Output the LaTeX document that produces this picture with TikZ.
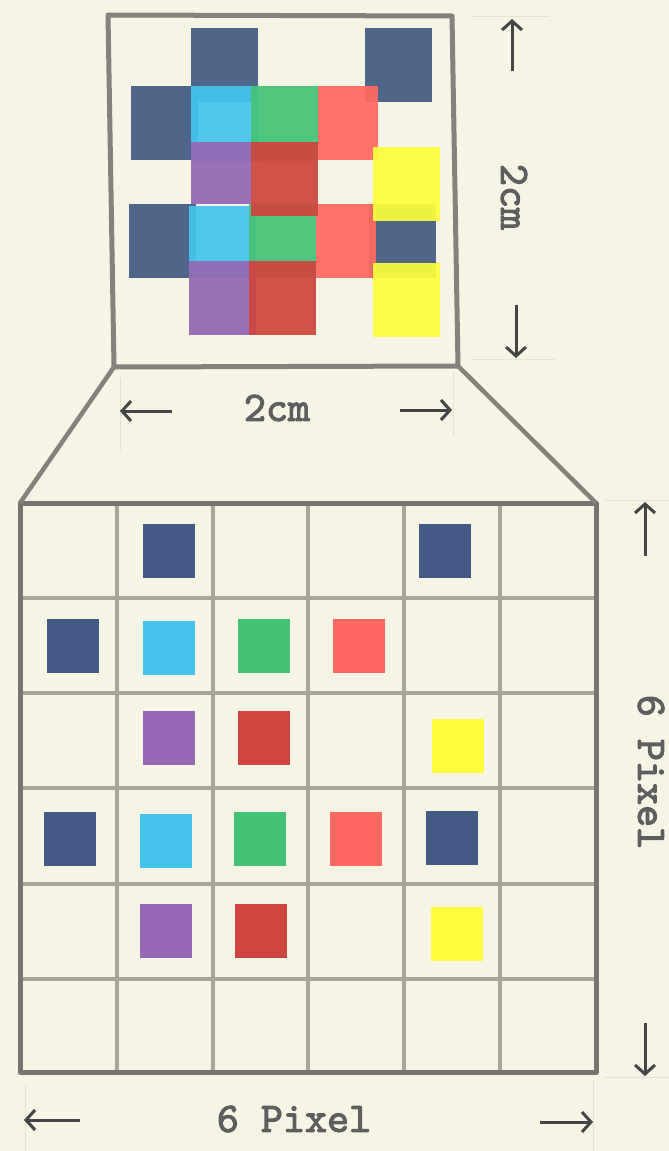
\documentclass[tikz,border=0pt]{standalone}
\usepackage{fontspec}
\newfontfamily\dimfont{lmmono10-regular.otf}[FakeBold=2.5]
\usetikzlibrary{arrows.meta}
\definecolor{bg}{HTML}{F6F4E5}
\definecolor{frame}{HTML}{85827C}
\definecolor{gridc}{HTML}{A9A79B}
\definecolor{outer}{HTML}{76746E}
\definecolor{dimc}{HTML}{454545}
\definecolor{txt}{HTML}{5E5E5E}
\definecolor{ext}{HTML}{E4E2D3}
\definecolor{cDB}{HTML}{435B84}
\definecolor{cCY}{HTML}{44C4EC}
\definecolor{cGR}{HTML}{44C276}
\definecolor{cSA}{HTML}{FF6961}
\definecolor{cPU}{HTML}{9568B3}
\definecolor{cRE}{HTML}{CE443F}
\definecolor{cYE}{HTML}{FDFD3D}
\tikzset{
  framebox/.style={draw=frame, line width=5pt, line join=round},
  zoomline/.style={draw=frame, line width=4.5pt},
  dimarrow/.style={draw=dimc, line width=3pt, -{Straight Barb[length=9pt,width=20pt,line width=3pt]}},
  dimtext/.style={text=txt, font=\dimfont\fontsize{42}{42}\selectfont, inner sep=0pt},
  extline/.style={draw=ext, line width=1pt},
  pix/.style={fill opacity=0.93},
  gridline/.style={gridc, line width=3.2pt},
}
\begin{document}
\begin{tikzpicture}[x=1pt,y=-1pt]
\fill[bg] (0,0) rectangle (669,1151);
\useasboundingbox (0,0) rectangle (669,1151);

% ---------- top (2cm) square: overlapping pixels ----------
\fill[cDB,pix] (191,28) rectangle (258,102);
\fill[cDB,pix] (365,28) rectangle (432,102);
\fill[cDB,pix] (131,86) rectangle (198,160);
\fill[cDB,pix] (129,204) rectangle (196,278);
\fill[cDB,pix] (369,204) rectangle (436,278);
\fill[cCY,pix] (191,86) rectangle (258,161);
\fill[cCY,pix] (189,206) rectangle (256,278);
\fill[cGR,pix] (251,86) rectangle (318,161);
\fill[cGR,pix] (249,204) rectangle (316,278);
\fill[cSA,pix] (318,86) rectangle (378,160);
\fill[cSA,pix] (316,204) rectangle (376,278);
\fill[cPU,pix] (191,142) rectangle (251,204);
\fill[cPU,pix] (189,261) rectangle (256,335);
\fill[cRE,pix] (251,142) rectangle (318,216);
\fill[cRE,pix] (249,261) rectangle (316,335);
\fill[cYE,pix] (373,147) rectangle (440,221);
\fill[cYE,pix] (373,263) rectangle (440,337);

% frame corners
\coordinate (tl) at (108,15);
\coordinate (tr) at (452,16);
\coordinate (br) at (458,366);
\coordinate (bl) at (114,367);
\draw[framebox] (tl) -- (tr) -- (br) -- (bl) -- cycle;

% ---------- bottom 6x6 grid ----------
\coordinate (gtl) at (20,503);
\coordinate (gtr) at (596,503);
\coordinate (gbr) at (596,1072);
\coordinate (gbl) at (20,1072);
\foreach \x in {117,213,308,404,500}
  \draw[gridline] (\x,503) -- (\x,1072);
\foreach \y in {598,693,788,884,979}
  \draw[gridline] (20,\y) -- (596,\y);
\draw[outer, line width=5pt, line join=round] (gtl) -- (gtr) -- (gbr) -- (gbl) -- cycle;

% zoom lines
\draw[zoomline] (bl) -- (gtl);
\draw[zoomline] (br) -- (gtr);

% bottom grid pixels
\fill[cDB] (143,524) rectangle (195,578);
\fill[cDB] (419,524) rectangle (471,578);
\fill[cDB] (47,619) rectangle (99,673);
\fill[cCY] (143,621) rectangle (195,675);
\fill[cGR] (238,619) rectangle (290,673);
\fill[cSA] (333,619) rectangle (385,673);
\fill[cPU] (143,711) rectangle (195,765);
\fill[cRE] (238,711) rectangle (290,765);
\fill[cYE] (432,719) rectangle (484,773);
\fill[cDB] (44,812) rectangle (96,866);
\fill[cCY] (140,814) rectangle (192,868);
\fill[cGR] (234,812) rectangle (286,866);
\fill[cSA] (330,812) rectangle (382,866);
\fill[cDB] (426,811) rectangle (478,865);
\fill[cPU] (140,904) rectangle (192,958);
\fill[cRE] (235,904) rectangle (287,958);
\fill[cYE] (431,907) rectangle (483,961);

% ---------- faint extension lines ----------
\draw[extline] (120,378) -- (120,450);
\draw[extline] (453,372) -- (453,436);
\draw[extline] (472,16) -- (550,16);
\draw[extline] (472,359) -- (555,359);
\draw[extline] (25,1084) -- (25,1151);
\draw[extline] (593,1080) -- (593,1151);
\draw[extline] (604,500) -- (669,500);
\draw[extline] (604,1077) -- (669,1077);

% ---------- dimension labels ----------
\node[dimtext] (w2) at (277,408) {2cm};
\coordinate (w2l) at (120,411);
\coordinate (w2r) at (452,410);
\coordinate (w2la) at (172,411);
\coordinate (w2ra) at (400,410);
\draw[dimarrow] (w2la) -- (w2l);
\draw[dimarrow] (w2ra) -- (w2r);

\node[rotate=-90, dimtext] (h2) at (514,197) {2cm};
\coordinate (h2t) at (512,19);
\coordinate (h2ta) at (512,71);
\coordinate (h2b) at (516,358);
\coordinate (h2ba) at (516,305);
\draw[dimarrow] (h2ta) -- (h2t);
\draw[dimarrow] (h2ba) -- (h2b);

\node[rotate=-90, dimtext] (h6) at (651,772) {6 Pixel};
\coordinate (h6t) at (645,502);
\coordinate (h6ta) at (645,556);
\coordinate (h6b) at (645,1076);
\coordinate (h6ba) at (645,1023);
\draw[dimarrow] (h6ta) -- (h6t);
\draw[dimarrow] (h6ba) -- (h6b);

\node[dimtext] (w6) at (294,1119) {6 Pixel};
\coordinate (w6l) at (24,1120);
\coordinate (w6la) at (80,1120);
\coordinate (w6r) at (593,1122);
\coordinate (w6ra) at (540,1122);
\draw[dimarrow] (w6la) -- (w6l);
\draw[dimarrow] (w6ra) -- (w6r);
\end{tikzpicture}
\end{document}
